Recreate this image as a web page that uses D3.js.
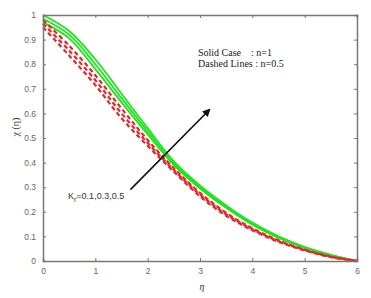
<!DOCTYPE html>
<html>
<head>
<meta charset="utf-8">
<script src="https://cdn.jsdelivr.net/npm/d3@7"></script>
<style>
  body { margin: 0; background: #fff; }
</style>
</head>
<body>
<div id="chart"></div>
<script>
const width = 371, height = 298;
const margin = { top: 15, right: 14, bottom: 37, left: 43 };
const innerWidth = width - margin.left - margin.right;
const innerHeight = height - margin.top - margin.bottom;

const eta = [0, 0.5, 1, 1.5, 2, 2.5, 3, 3.5, 4, 4.5, 5, 5.5, 6];

// solid, n = 1
const solidKr01 = [1.00, 0.935, 0.820, 0.680, 0.540, 0.405, 0.307, 0.226, 0.156, 0.100, 0.057, 0.025, 0];
const solidKr03 = [0.985, 0.920, 0.800, 0.662, 0.527, 0.397, 0.301, 0.221, 0.151, 0.097, 0.055, 0.024, 0];
const solidKr05 = [0.97, 0.905, 0.780, 0.645, 0.515, 0.390, 0.295, 0.216, 0.147, 0.094, 0.053, 0.023, 0];

// dashed, n = 0.5
const dashedKr01 = [0.98, 0.875, 0.755, 0.620, 0.492, 0.377, 0.277, 0.196, 0.133, 0.084, 0.046, 0.018, 0];
const dashedKr03 = [0.965, 0.855, 0.735, 0.600, 0.480, 0.370, 0.270, 0.190, 0.129, 0.081, 0.045, 0.017, 0];
const dashedKr05 = [0.95, 0.835, 0.715, 0.580, 0.468, 0.363, 0.263, 0.184, 0.125, 0.078, 0.043, 0.016, 0];

const xTicks = [0, 1, 2, 3, 4, 5, 6];
const yTicks = [0, 0.1, 0.2, 0.3, 0.4, 0.5, 0.6, 0.7, 0.8, 0.9, 1];

// arrow from/to in data units
const arrowFrom = [1.67, 0.29];
const arrowTo = [3.18, 0.615];

const x = d3.scaleLinear().domain([0, 6]).range([0, innerWidth]);
const y = d3.scaleLinear().domain([0, 1]).range([innerHeight, 0]);

const svg = d3.select("#chart")
  .append("svg")
  .attr("width", width)
  .attr("height", height);

svg.append("defs").append("marker")
  .attr("id", "head")
  .attr("viewBox", "0 0 10 10")
  .attr("refX", 8)
  .attr("refY", 5)
  .attr("markerWidth", 5)
  .attr("markerHeight", 5)
  .attr("orient", "auto")
  .append("path")
  .attr("d", "M0,0 L10,5 L0,10 z")
  .attr("fill", "#111");

const g = svg.append("g")
  .attr("transform", `translate(${margin.left}, ${margin.top})`);

const line = d3.line()
  .x((d, i) => x(eta[i]))
  .y(d => y(d))
  .curve(d3.curveCatmullRom.alpha(0.5));

// Curves
[solidKr01, solidKr03, solidKr05].forEach(s => {
  g.append("path")
    .attr("d", line(s))
    .attr("fill", "none")
    .attr("stroke", "#1ee61e")
    .attr("stroke-width", 1.8);
});

[dashedKr01, dashedKr03, dashedKr05].forEach(s => {
  g.append("path")
    .attr("d", line(s))
    .attr("fill", "none")
    .attr("stroke", "#e6262a")
    .attr("stroke-width", 2.2)
    .attr("stroke-dasharray", "4.5,3");
});

// Axes (ticks inward, box)
const axisColor = "#777";
const tickFont = "Liberation Sans, Arial, sans-serif";

const xAxis = d3.axisBottom(x).tickValues(xTicks).tickSize(-3).tickPadding(7).tickFormat(d3.format("d"));
const yAxis = d3.axisLeft(y).tickValues(yTicks).tickSize(-3).tickPadding(7).tickFormat(d => d === 0 || d === 1 ? d : d3.format(".1f")(d));
const xTop = d3.axisTop(x).tickValues(xTicks).tickSize(-3).tickFormat("");
const yRight = d3.axisRight(y).tickValues(yTicks).tickSize(-3).tickFormat("");

g.append("g").attr("transform", `translate(0, ${innerHeight})`).call(xAxis);
g.append("g").call(yAxis);
g.append("g").call(xTop);
g.append("g").attr("transform", `translate(${innerWidth}, 0)`).call(yRight);

g.selectAll(".domain").attr("stroke", axisColor).attr("stroke-width", 1.5);
g.selectAll(".tick line").attr("stroke", axisColor);
g.selectAll(".tick text")
  .attr("fill", "#666")
  .style("font-size", "8.5px")
  .style("font-family", tickFont);

// Arrow
g.append("line")
  .attr("x1", x(arrowFrom[0]))
  .attr("y1", y(arrowFrom[1]))
  .attr("x2", x(arrowTo[0]))
  .attr("y2", y(arrowTo[1]))
  .attr("stroke", "#111")
  .attr("stroke-width", 1.6)
  .attr("marker-end", "url(#head)");

// Kr label
const kr = svg.append("text")
  .attr("x", 68)
  .attr("y", 199)
  .style("font-size", "9px")
  .style("font-family", tickFont)
  .attr("fill", "#333");
kr.append("tspan").text("K");
kr.append("tspan").attr("dy", 2.5).style("font-size", "7px").text("r");
kr.append("tspan").attr("dy", -2.5).text("=0.1,0.3,0.5");

// Legend note
const note = svg.append("g")
  .style("font-family", "Liberation Serif, Times New Roman, serif")
  .style("font-size", "10px")
  .attr("fill", "#222");
note.append("text").attr("x", 198).attr("y", 56).attr("xml:space", "preserve").text("Solid Case    : n=1");
note.append("text").attr("x", 198).attr("y", 67).text("Dashed Lines : n=0.5");

// Axis labels
svg.append("text")
  .attr("transform", `translate(19, 127) rotate(-90)`)
  .attr("text-anchor", "middle")
  .style("font-family", "Liberation Serif, Times New Roman, serif")
  .style("font-size", "10px")
  .attr("fill", "#333")
  .text("χ (η)");

svg.append("text")
  .attr("x", 202)
  .attr("y", 290)
  .attr("text-anchor", "middle")
  .style("font-family", "Liberation Serif, Times New Roman, serif")
  .style("font-style", "italic")
  .style("font-size", "10px")
  .attr("fill", "#333")
  .text("η");
</script>
</body>
</html>
